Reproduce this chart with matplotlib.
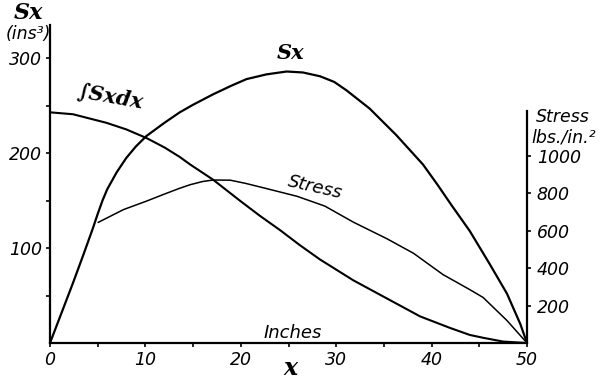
import matplotlib
matplotlib.use("Agg")
import matplotlib.pyplot as plt
from matplotlib.ticker import MultipleLocator, FixedLocator

# ---- data ----
sx_x = [0, 2.4, 3.5, 4.5, 5.0, 5.5, 6.0, 7.0, 8.0, 9.0, 10.1, 12.0, 13.6, 15.0, 17.1,
        19.0, 20.6, 22.7, 24.8, 26.5, 28.3, 29.8, 31.1, 33.5, 36.3, 39.1, 40.6,
        42.1, 44.0, 46.1, 47.9, 49.3, 50]
sx_y = [0, 63, 93, 121, 136, 150, 162, 180, 195, 207, 218, 232, 243, 251, 262,
        271, 278, 283, 286, 285, 281, 275, 266, 247, 219, 188, 167,
        145, 118, 83, 52, 20, 0]

int_x = [0, 2.4, 5.9, 8.0, 10.1, 12.0, 13.6, 14.7, 17.1, 19.9, 22.0, 24.1, 26.2,
         28.3, 31.8, 35.3, 38.8, 41.9, 44.0, 45.4, 47.5, 50]
int_y = [243, 241, 232, 225, 216, 206, 196, 188, 172, 150, 134, 119, 103,
         88, 66, 47, 28, 16, 8.5, 5.5, 1.5, 0]

st_x = [5.06, 7.7, 10.1, 12.0, 13.6, 14.7, 16.0, 17.1, 18.9, 20.5, 22.4, 25.9,
        28.8, 31.8, 35.3, 38.1, 41.2, 44.0, 45.4, 47.9, 50]
st_y = [644, 712, 757, 795, 826, 845, 862, 870, 869, 852, 828, 783,
        731, 645, 557, 479, 365, 285, 243, 120, 0]

x_ticks = [0, 10, 20, 30, 40, 50]
left_ticks = [100, 200, 300]
right_ticks = [200, 400, 600, 800, 1000]

# ---- figure ----
fig = plt.figure(figsize=(6.01, 3.79), dpi=100)
ax = fig.add_axes([50/601, 36/379, 477/601, 318/379])
LEFT_MAX = 335
RIGHT_MAX = LEFT_MAX * 0.95 / 0.1875
ax.set_xlim(0, 50)
ax.set_ylim(0, LEFT_MAX)
ax2 = ax.twinx()
ax2.set_ylim(0, RIGHT_MAX)

tickfont = dict(family="DejaVu Sans", style="italic", size=12.5)

ax.plot(sx_x, sx_y, color="black", lw=1.6, solid_joinstyle="round")
ax.plot(int_x, int_y, color="black", lw=1.5, solid_joinstyle="round")
ax2.plot(st_x, st_y, color="black", lw=1.1, solid_joinstyle="round")

for s in ["top", "right"]:
    ax.spines[s].set_visible(False)
for s in ["top", "left", "bottom"]:
    ax2.spines[s].set_visible(False)
ax.spines["left"].set_linewidth(1.6)
ax.spines["bottom"].set_linewidth(1.6)
ax2.spines["right"].set_linewidth(1.6)
ax2.spines["right"].set_bounds(0, 1240)

ax.xaxis.set_major_locator(FixedLocator(x_ticks))
ax.xaxis.set_minor_locator(MultipleLocator(5))
ax.yaxis.set_major_locator(FixedLocator(left_ticks))
ax.yaxis.set_minor_locator(FixedLocator([50, 150, 250]))
ax2.yaxis.set_major_locator(FixedLocator(right_ticks))

ax.tick_params(axis="both", which="both", direction="out", length=3, width=1.2, colors="black")
ax.tick_params(axis="x", pad=3)
ax.tick_params(axis="y", pad=3)
ax2.tick_params(axis="y", which="both", direction="out", length=3, width=1.2, pad=4)

ax.set_xticklabels([str(t) for t in x_ticks], **tickfont)
ax.set_yticklabels([str(t) for t in left_ticks], **tickfont)
ax2.set_yticklabels([str(t) for t in right_ticks], **tickfont)

serif_bi = dict(family="DejaVu Serif", style="italic", weight="bold")
sans_i = dict(family="DejaVu Sans", style="italic")

ax.text(25.2, 306, "Sx", fontsize=15, ha="center", va="center", **serif_bi)
ax.text(6.3, 259, "\u222bSxdx", fontsize=15, ha="center", va="center", rotation=-10, **serif_bi)
ax.text(27.8, 164, "Stress", fontsize=13, ha="center", va="center", rotation=-13, **sans_i)
ax.text(25.4, 10.5, "Inches", fontsize=13, ha="center", va="center", **sans_i)

fig.text(290/601, 1 - 368/379, "x", fontsize=17, ha="center", va="center", **serif_bi)
fig.text(28/601, 1 - 13/379, "Sx", fontsize=16, ha="center", va="center", **serif_bi)
fig.text(28/601, 1 - 34/379, "(ins\u00b3)", fontsize=12.5, ha="center", va="center", **sans_i)
fig.text(563/601, 1 - 117/379, "Stress", fontsize=12.5, ha="center", va="center", **sans_i)
fig.text(564/601, 1 - 138/379, "lbs./in.\u00b2", fontsize=12.5, ha="center", va="center", **sans_i)

fig.savefig("out.png", dpi=100)
